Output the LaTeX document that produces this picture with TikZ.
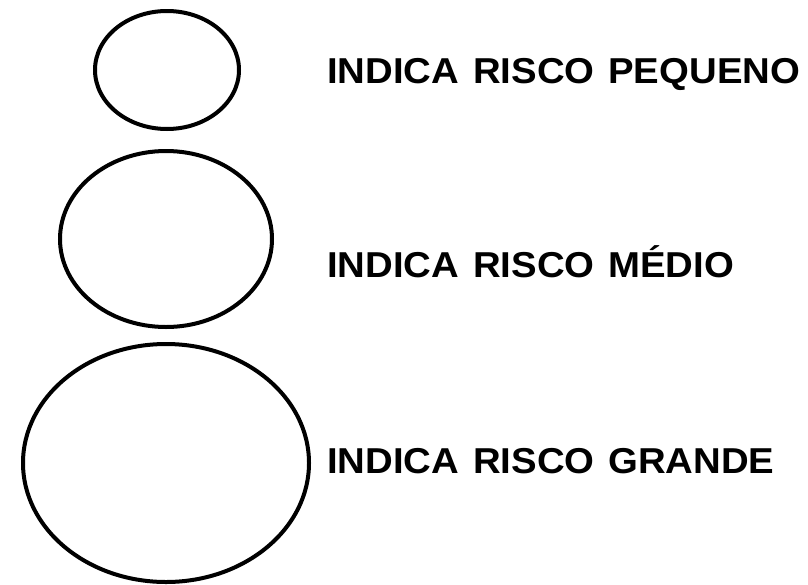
\documentclass[tikz,border=0pt]{standalone}
\usepackage{fontspec}
\setmainfont{Liberation Sans}
\newcommand{\wsp}{\hspace{13pt}}
\begin{document}
\begin{tikzpicture}[x=1pt,y=-1pt,
  ring/.style={draw=black,line width=4pt},
  lab/.style={anchor=base west,inner sep=0pt,font=\fontsize{36}{40}\selectfont\bfseries}]
\useasboundingbox (0,0) rectangle (808,584);
\draw[ring] (167,70) ellipse [x radius=72, y radius=59];
\draw[ring] (166,239) ellipse [x radius=106, y radius=88];
\draw[ring] (166,463) ellipse [x radius=143, y radius=119];
\node[lab] (t1) at (327,83) {\scalebox{1.065}[1]{INDICA\wsp RISCO\wsp PEQUENO}};
\node[lab] (t2) at (327,277) {\scalebox{1.065}[1]{INDICA\wsp RISCO\wsp MÉDIO}};
\node[lab] (t3) at (327,473) {\scalebox{1.065}[1]{INDICA\wsp RISCO\wsp GRANDE}};
\end{tikzpicture}
\end{document}
